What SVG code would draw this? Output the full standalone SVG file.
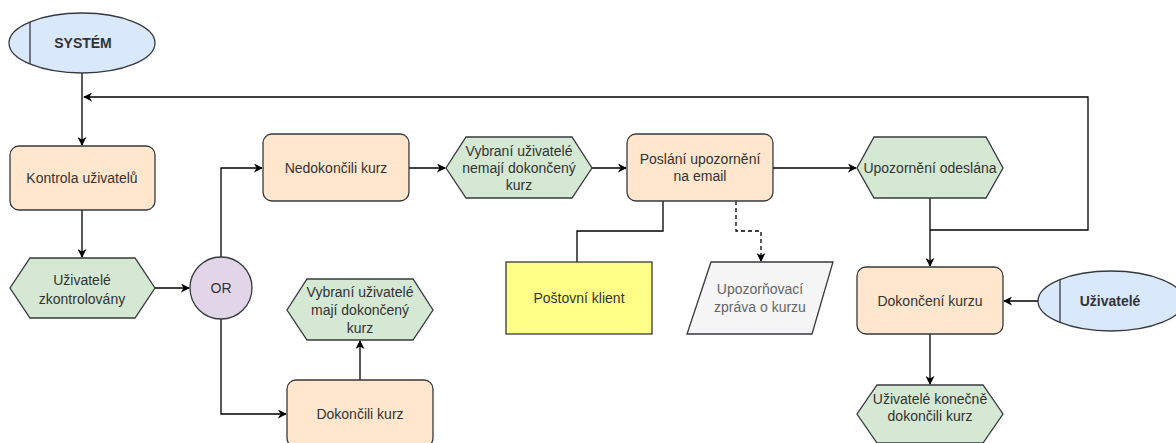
<svg xmlns="http://www.w3.org/2000/svg" width="1176" height="443" viewBox="0 0 1176 443">
  <style>
    .lbl { font-family: "Liberation Sans", Arial, sans-serif; font-size: 14px; fill: #333; text-anchor: middle; }
    .bold { font-weight: bold; }
    .muted { fill: #666; }
    .task { fill: #ffe6cc; stroke: #36393d; stroke-width: 1.3; }
    .event { fill: #d5e8d4; stroke: #36393d; stroke-width: 1.3; }
    .actor { fill: #dae8fc; stroke: #36393d; stroke-width: 1.3; }
    .gate { fill: #e1d5e7; stroke: #36393d; stroke-width: 1.3; }
    .sys { fill: #ffff88; stroke: #36393d; stroke-width: 1.3; }
    .doc { fill: #f5f5f5; stroke: #36393d; stroke-width: 1.3; }
    .edge { fill: none; stroke: #000; stroke-width: 1.3; }
    .dash { stroke-dasharray: 4 3; }
  </style>
  <defs>
    <marker id="arrow" viewBox="0 0 10 10" refX="9" refY="5" markerWidth="9" markerHeight="9" markerUnits="userSpaceOnUse" orient="auto">
      <path d="M0,0 L10,5 L0,10 L3,5 z" fill="#000"/>
    </marker>
  </defs>

  <!-- connectors -->
  <g id="connectors">
    <path class="edge" d="M82,73 V145" marker-end="url(#arrow)"/>
    <path class="edge" d="M930,230 H1088 V97 H84" marker-end="url(#arrow)"/>
    <path class="edge" d="M82,210 V257" marker-end="url(#arrow)"/>
    <path class="edge" d="M155,288 H189" marker-end="url(#arrow)"/>
    <path class="edge" d="M221,257 V168 H262" marker-end="url(#arrow)"/>
    <path class="edge" d="M221,319 V414 H286" marker-end="url(#arrow)"/>
    <path class="edge" d="M360,380 V341" marker-end="url(#arrow)"/>
    <path class="edge" d="M409,168 H445" marker-end="url(#arrow)"/>
    <path class="edge" d="M592,168 H626" marker-end="url(#arrow)"/>
    <path class="edge" d="M773,168 H856" marker-end="url(#arrow)"/>
    <path class="edge" d="M663,201 V231 H577 V262"/>
    <path class="edge dash" d="M736,201 V231 H761 V261" marker-end="url(#arrow)"/>
    <path class="edge" d="M930,198 V266" marker-end="url(#arrow)"/>
    <path class="edge" d="M1038,301 H1004" marker-end="url(#arrow)"/>
    <path class="edge" d="M930,334 V384" marker-end="url(#arrow)"/>
  </g>

  <g id="system">
    <ellipse class="actor" cx="82" cy="43" rx="73" ry="30"/>
    <line x1="30" y1="22" x2="30" y2="64" stroke="#36393d" stroke-width="1.3"/>
    <text class="lbl bold" x="83" y="48">SYSTÉM</text>
  </g>

  <g id="kontrola">
    <rect class="task" x="10" y="146" width="145" height="64" rx="9"/>
    <text class="lbl" x="82" y="183">Kontrola uživatelů</text>
  </g>

  <g id="zkontrolovany">
    <polygon class="event" points="30,258 135,258 155,288 135,318 30,318 10,288"/>
    <text class="lbl" x="82" y="285">Uživatelé</text>
    <text class="lbl" x="82" y="304">zkontrolovány</text>
  </g>

  <g id="or">
    <circle class="gate" cx="221" cy="288" r="31"/>
    <text class="lbl" x="221" y="293">OR</text>
  </g>

  <g id="nedokoncili">
    <rect class="task" x="263" y="134" width="146" height="67" rx="9"/>
    <text class="lbl" x="336" y="173">Nedokončili kurz</text>
  </g>

  <g id="nemaji">
    <polygon class="event" points="466,137 572,137 592,168 572,198 466,198 446,168"/>
    <text class="lbl" x="519" y="156">Vybraní uživatelé</text>
    <text class="lbl" x="519" y="173">nemají dokončený</text>
    <text class="lbl" x="519" y="190">kurz</text>
  </g>

  <g id="poslani">
    <rect class="task" x="627" y="134" width="146" height="67" rx="9"/>
    <text class="lbl" x="700" y="164">Poslání upozornění</text>
    <text class="lbl" x="700" y="181">na email</text>
  </g>

  <g id="odeslana">
    <polygon class="event" points="874,137 986,137 1003,168 986,198 874,198 857,168"/>
    <text class="lbl" x="930" y="173">Upozornění odeslána</text>
  </g>

  <g id="klient">
    <rect class="sys" x="506" y="262" width="146" height="72"/>
    <text class="lbl" x="579" y="303">Poštovní klient</text>
  </g>

  <g id="zprava">
    <polygon class="doc" points="711,262 833,262 812,334 687,334"/>
    <text class="lbl muted" x="760" y="294">Upozorňovací</text>
    <text class="lbl muted" x="760" y="312">zpráva o kurzu</text>
  </g>

  <g id="dokonceni">
    <rect class="task" x="857" y="267" width="146" height="67" rx="9"/>
    <text class="lbl" x="930" y="306">Dokončení kurzu</text>
  </g>

  <g id="uzivatele">
    <ellipse class="actor" cx="1111" cy="301" rx="73" ry="30"/>
    <line x1="1060" y1="279" x2="1060" y2="323" stroke="#36393d" stroke-width="1.3"/>
    <text class="lbl bold" x="1110" y="306">Uživatelé</text>
  </g>

  <g id="konecne">
    <polygon class="event" points="877,385 983,385 1003,414 983,443 877,443 857,414"/>
    <text class="lbl" x="930" y="404">Uživatelé konečně</text>
    <text class="lbl" x="930" y="421">dokončili kurz</text>
  </g>

  <g id="dokoncili">
    <rect class="task" x="287" y="380" width="146" height="67" rx="9"/>
    <text class="lbl" x="360" y="419">Dokončili kurz</text>
  </g>

  <g id="maji">
    <polygon class="event" points="307,279 413,279 433,310 413,340 307,340 287,310"/>
    <text class="lbl" x="360" y="297">Vybraní uživatelé</text>
    <text class="lbl" x="360" y="315">mají dokončený</text>
    <text class="lbl" x="360" y="333">kurz</text>
  </g>
</svg>
